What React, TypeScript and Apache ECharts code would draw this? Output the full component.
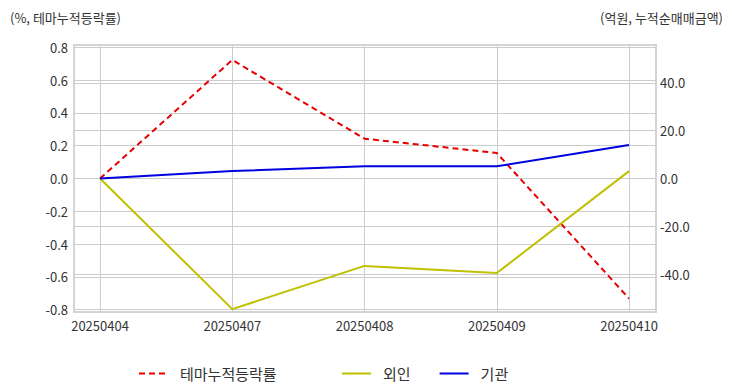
import React, { useEffect, useRef } from "react";
import * as echarts from "echarts";

const categories = ["20250404", "20250407", "20250408", "20250409", "20250410"];
const themeReturn = [0, 0.724, 0.243, 0.156, -0.733];
const foreign = [0, -54.7, -36.6, -39.6, 3.1];
const institution = [0, 3.1, 5.1, 5.1, 14.0];
const leftTicks = [-0.8, -0.6, -0.4, -0.2, 0, 0.2, 0.4, 0.6, 0.8];
const rightTicks = [-40, -20, 0, 20, 40];
const leftTitle = "(%, 테마누적등락률)";
const rightTitle = "(억원, 누적순매매금액)";

const FONT = "'Noto Sans CJK KR', 'Noto Sans', sans-serif";

export default function App() {
  const ref = useRef<HTMLDivElement>(null);
  useEffect(() => {
    if (!ref.current) return;
    const chart = echarts.init(ref.current, undefined, { renderer: "svg" });
    const pts = (arr: number[]) => arr.map((v, i) => [i, v]);
    const legendText = { fontSize: 15, color: "#333", padding: [0, 0, 0, 7], fontFamily: FONT };
    chart.setOption({
      animation: false,
      backgroundColor: "#ffffff",
      textStyle: { fontFamily: FONT },
      title: [
        { text: leftTitle, left: 5, top: 6, textStyle: { fontSize: 13, fontWeight: "normal", color: "#333", fontFamily: FONT } },
        { text: rightTitle, right: 4, top: 6, textStyle: { fontSize: 13, fontWeight: "normal", color: "#333", fontFamily: FONT } },
      ],
      grid: {
        left: 74,
        right: 76,
        top: 45,
        bottom: 80,
        show: true,
        borderColor: "#d4d4d4",
        borderWidth: 2,
      },
      legend: [
        {
          left: 133,
          top: 361,
          itemWidth: 29,
          itemHeight: 14,
          itemStyle: { opacity: 0 },
          data: ["테마누적등락률"],
          textStyle: legendText,
        },
        {
          left: 336,
          top: 361,
          itemWidth: 29,
          itemHeight: 14,
          itemGap: 28,
          itemStyle: { opacity: 0 },
          data: ["외인", "기관"],
          textStyle: legendText,
        },
      ],
      xAxis: {
        type: "value",
        min: -0.197,
        max: 4.204,
        axisLine: { show: false },
        axisTick: { show: false, customValues: categories.map((_, i) => i) },
        axisLabel: {
          customValues: categories.map((_, i) => i),
          formatter: (v: number) => categories[Math.round(v)] ?? "",
          color: "#333",
          fontSize: 13,
          margin: 7,
          fontFamily: FONT,
        },
        splitLine: { show: true, lineStyle: { color: "#cccccc", width: 1 } },
      },
      yAxis: [
        {
          type: "value",
          min: -0.815,
          max: 0.815,
          position: "left",
          axisLine: { show: false },
          axisTick: { show: false, customValues: leftTicks },
          axisLabel: {
            customValues: leftTicks,
            formatter: (v: number) => v.toFixed(1),
            color: "#333",
            fontSize: 13,
            margin: 6,
            fontFamily: FONT,
          },
          splitLine: { show: true, lineStyle: { color: "#cccccc", width: 1 } },
        },
        {
          type: "value",
          min: -55.9,
          max: 55.9,
          position: "right",
          axisLine: { show: false },
          axisTick: { show: false, customValues: rightTicks },
          axisLabel: {
            customValues: rightTicks,
            formatter: (v: number) => v.toFixed(1),
            color: "#333",
            fontSize: 13,
            margin: 4,
            fontFamily: FONT,
          },
          splitLine: { show: true, lineStyle: { color: "#cccccc", width: 1 } },
        },
      ],
      series: [
        {
          name: "테마누적등락률",
          type: "line",
          yAxisIndex: 0,
          data: pts(themeReturn),
          symbol: "none",
          color: "#e60000",
          lineStyle: { color: "#e60000", width: 2, type: [6, 4] },
          z: 3,
        },
        {
          name: "외인",
          type: "line",
          yAxisIndex: 1,
          data: pts(foreign),
          symbol: "none",
          color: "#c0c000",
          lineStyle: { color: "#c0c000", width: 2 },
        },
        {
          name: "기관",
          type: "line",
          yAxisIndex: 1,
          data: pts(institution),
          symbol: "none",
          color: "#0000e0",
          lineStyle: { color: "#0000e0", width: 2 },
        },
      ],
    });
    return () => chart.dispose();
  }, []);
  return <div ref={ref} style={{ width: 732, height: 392, position: "fixed", left: 0, top: 0 }} />;
}
